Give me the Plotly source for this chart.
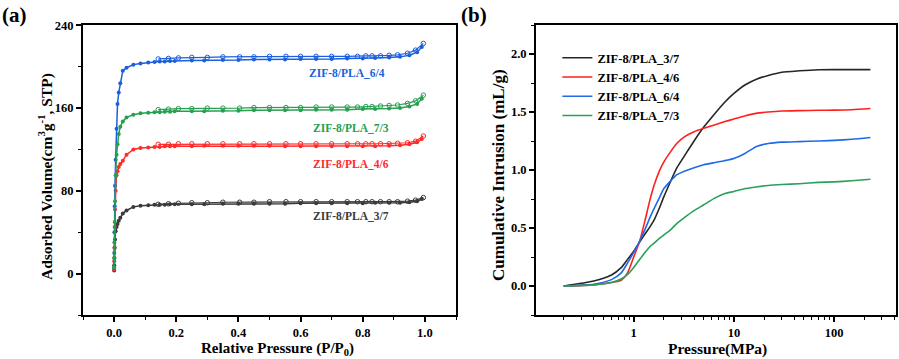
import plotly.graph_objects as go

# ---------------- Panel (a): N2 isotherms ----------------
p_ads = [0.0002, 0.0005, 0.001, 0.002, 0.003, 0.005, 0.008, 0.011, 0.015, 0.02, 0.028, 0.04,
         0.062, 0.085, 0.11, 0.13, 0.147, 0.163, 0.18, 0.195, 0.25, 0.29, 0.35, 0.40, 0.45,
         0.50, 0.55, 0.60, 0.65, 0.70, 0.75, 0.80, 0.84, 0.885, 0.92, 0.95, 0.975, 0.99]
p_des = [0.995, 0.97, 0.944, 0.912, 0.885, 0.857, 0.83, 0.81, 0.783, 0.75, 0.70, 0.65,
         0.60, 0.553, 0.50, 0.45, 0.404, 0.35, 0.30, 0.25, 0.207, 0.175, 0.142]

ads_3_7 = [3, 8, 15, 25, 33, 41, 45, 48, 51, 54, 58, 61, 64.5, 65.5, 66, 66.5, 66.5, 66.5, 67, 67,
           67, 67, 67.5, 67.5, 67.5, 67.5, 67.5, 68, 68, 68, 68, 68, 68.5, 68.5, 68.5, 69, 70, 72]
des_3_7 = [73.5, 71, 70, 69.5, 69.5, 69.5, 69.5, 69.5, 69.5, 69.5, 69.5, 69.5, 69.5, 69.5, 69.5,
           69, 69, 69, 68.5, 68.5, 68, 67.5, 67]

ads_4_6 = [4, 12, 25, 45, 62, 80, 95, 99, 103, 106, 109, 115, 120, 121.5, 122, 122.5, 122.5, 123,
           123, 123, 123, 123.5, 123.5, 123.5, 123.5, 123.5, 123, 123, 123, 123, 123, 123, 123,
           123.5, 124, 125, 127, 130]
des_4_6 = [133, 128, 126.5, 126, 125.5, 125.5, 125.5, 125.5, 125.5, 125.5, 125.5, 125.5, 125.5,
           125.5, 125.5, 125.5, 125.5, 125.5, 125.5, 125.5, 125.5, 125, 125]

ads_6_4 = [6, 20, 40, 65, 85, 110, 140, 164, 175, 184, 196, 199, 202, 203, 204, 204.5, 205, 205,
           205.5, 205.5, 206, 206, 206.5, 206.5, 207, 207, 207, 207.5, 207.5, 207.5, 208, 208,
           208.5, 209, 209.5, 211, 214, 219]
des_6_4 = [222.5, 216, 213, 211.5, 211, 210.5, 210.5, 210.5, 210, 210, 210, 210, 210, 210, 210,
           209.5, 209.5, 209.5, 209, 209, 208.5, 208, 207.5]

ads_7_3 = [6, 15, 30, 50, 70, 95, 115, 125, 135, 142, 147, 151, 153.5, 155, 155.5, 156, 156,
           156.5, 156.5, 157, 157, 157, 157.5, 157.5, 158, 158, 158, 158, 158.5, 158.5, 158.5,
           159, 159, 159.5, 160, 161.5, 164, 169]
des_7_3 = [172.5, 167, 164.5, 163, 162.5, 162, 161.5, 161.5, 161, 161, 161, 161, 160.5, 160.5,
           160.5, 160.5, 160, 160, 160, 159.5, 159.5, 159, 158.5]

# ---------------- Panel (b): mercury intrusion ----------------
pressure = [0.2, 0.4, 0.6, 0.75, 0.87, 1.0, 1.15, 1.3, 1.45, 1.6, 1.8, 2.0, 2.3, 2.7, 3.2, 4.0,
            5.0, 6.5, 8.0, 10, 13, 17, 22, 30, 45, 70, 100, 150, 230]
int_3_7 = [0, 0.043, 0.095, 0.158, 0.23, 0.30, 0.38, 0.45, 0.51, 0.57, 0.67, 0.77, 0.89, 1.02,
           1.12, 1.25, 1.37, 1.49, 1.58, 1.66, 1.735, 1.785, 1.815, 1.843, 1.855, 1.864, 1.865,
           1.865, 1.865]
int_4_6 = [0, 0.01, 0.03, 0.05, 0.115, 0.25, 0.39, 0.57, 0.74, 0.87, 0.99, 1.07, 1.15, 1.23,
           1.285, 1.33, 1.36, 1.39, 1.415, 1.44, 1.468, 1.49, 1.50, 1.508, 1.512, 1.515, 1.516,
           1.52, 1.53]
int_6_4 = [0, 0.015, 0.055, 0.113, 0.2, 0.29, 0.39, 0.49, 0.59, 0.67, 0.76, 0.84, 0.90, 0.96,
           0.99, 1.02, 1.045, 1.065, 1.08, 1.10, 1.145, 1.205, 1.228, 1.24, 1.245, 1.25, 1.255,
           1.265, 1.28]
int_7_3 = [0, 0.01, 0.03, 0.06, 0.10, 0.16, 0.23, 0.29, 0.34, 0.37, 0.41, 0.44, 0.48, 0.54,
           0.59, 0.65, 0.70, 0.76, 0.795, 0.815, 0.84, 0.855, 0.867, 0.875, 0.882, 0.893, 0.898,
           0.907, 0.92]

names = ["ZIF-8/PLA_3/7", "ZIF-8/PLA_4/6", "ZIF-8/PLA_6/4", "ZIF-8/PLA_7/3"]
col_a = {"ZIF-8/PLA_3/7": "#3a3a3a", "ZIF-8/PLA_4/6": "#ff2a2a",
         "ZIF-8/PLA_6/4": "#1c5fdc", "ZIF-8/PLA_7/3": "#26a04f"}
col_b = {"ZIF-8/PLA_3/7": "#262626", "ZIF-8/PLA_4/6": "#ff1f1f",
         "ZIF-8/PLA_6/4": "#1f6ae8", "ZIF-8/PLA_7/3": "#2ba05a"}

FONT = "Liberation Serif"

fig = go.Figure()

iso = {"ZIF-8/PLA_3/7": (ads_3_7, des_3_7), "ZIF-8/PLA_4/6": (ads_4_6, des_4_6),
       "ZIF-8/PLA_6/4": (ads_6_4, des_6_4), "ZIF-8/PLA_7/3": (ads_7_3, des_7_3)}
for nm in ["ZIF-8/PLA_3/7", "ZIF-8/PLA_4/6", "ZIF-8/PLA_6/4", "ZIF-8/PLA_7/3"]:
    a, d = iso[nm]
    c = col_a[nm]
    fig.add_trace(go.Scatter(x=p_des, y=d, mode="lines+markers", showlegend=False,
                             line=dict(color=c, width=1.2),
                             marker=dict(symbol="circle-open", size=4.5, color=c,
                                         line=dict(color=c, width=1)),
                             xaxis="x", yaxis="y"))
    fig.add_trace(go.Scatter(x=p_ads, y=a, mode="lines+markers", showlegend=False,
                             line=dict(color=c, width=1.5),
                             marker=dict(symbol="circle", size=4, color=c),
                             xaxis="x", yaxis="y"))

intr = {"ZIF-8/PLA_3/7": int_3_7, "ZIF-8/PLA_4/6": int_4_6,
        "ZIF-8/PLA_6/4": int_6_4, "ZIF-8/PLA_7/3": int_7_3}
for nm in names:
    fig.add_trace(go.Scatter(x=pressure, y=intr[nm], mode="lines", name=nm,
                             line=dict(color=col_b[nm], width=1.6, shape="spline", smoothing=0.6),
                             xaxis="x2", yaxis="y2"))

axis_common = dict(showline=True, linecolor="black", linewidth=2, mirror=True,
                   ticks="outside", ticklen=5, tickwidth=1.5, tickcolor="black",
                   showgrid=False, zeroline=False, automargin=False,
                   tickfont=dict(family=FONT, size=12.5, color="black", weight="bold"))

minor_log = [0.2, 0.3, 0.4, 0.5, 0.6, 0.7, 0.8, 0.9, 2, 3, 4, 5, 6, 7, 8, 9,
             20, 30, 40, 50, 60, 70, 80, 90, 200, 300, 400]

fig.update_layout(
    width=899, height=359,
    margin=dict(l=0, r=0, t=0, b=0, autoexpand=False),
    paper_bgcolor="white", plot_bgcolor="white",
    font=dict(family=FONT, color="black"),
    xaxis=dict(domain=[83 / 899, 456 / 899], range=[-0.1, 1.1], tick0=0, dtick=0.2,
               tickformat=".1f",
               minor=dict(ticks="outside", dtick=0.1, tick0=0, ticklen=3, tickwidth=1.2,
                          tickcolor="black"),
               anchor="y", **axis_common),
    yaxis=dict(domain=[44 / 359, 334 / 359], range=[-40, 240.3], tick0=0, dtick=80,
               minor=dict(ticks="outside", dtick=40, tick0=0, ticklen=3, tickwidth=1.2,
                          tickcolor="black"),
               anchor="x", **axis_common),
    xaxis2=dict(domain=[536 / 899, 896 / 899], type="log", range=[-0.975, 2.617],
                tickmode="array", tickvals=[1, 10, 100], ticktext=["1", "10", "100"],
                minor=dict(ticks="outside", tickmode="array", tickvals=minor_log, ticklen=3,
                           tickwidth=1.2, tickcolor="black"),
                anchor="y2", **axis_common),
    yaxis2=dict(domain=[44 / 359, 334 / 359], range=[-0.25, 2.25], tick0=0, dtick=0.5,
                tickformat=".1f",
                minor=dict(ticks="outside", dtick=0.25, tick0=0, ticklen=3, tickwidth=1.2,
                           tickcolor="black"),
                anchor="x2", **axis_common),
    legend=dict(x=0.62, y=0.88, xanchor="left", yanchor="top",
                bgcolor="rgba(0,0,0,0)", borderwidth=0, tracegroupgap=0,
                font=dict(family=FONT, size=12.5, color="black", weight="bold")),
)

ann = []
lbl_pos = {"ZIF-8/PLA_6/4": (0.749, 193.5), "ZIF-8/PLA_7/3": (0.762, 141),
           "ZIF-8/PLA_4/6": (0.762, 106), "ZIF-8/PLA_3/7": (0.762, 56)}
for nm, (xx, yy) in lbl_pos.items():
    ann.append(dict(x=xx, y=yy, xref="x", yref="y", text=nm, showarrow=False,
                    xanchor="center", yanchor="middle",
                    font=dict(family=FONT, size=11.5, color=col_a[nm], weight="bold")))

common = dict(xref="paper", yref="paper", showarrow=False, xanchor="center", yanchor="middle")
ann += [
    dict(x=14 / 899, y=1 - 15 / 359, text="(a)",
         font=dict(family=FONT, size=21, color="black", weight="bold"), **common),
    dict(x=474 / 899, y=1 - 15 / 359, text="(b)",
         font=dict(family=FONT, size=21, color="black", weight="bold"), **common),
    dict(x=45 / 899, y=1 - 177 / 359, textangle=-90,
         text="Adsorbed Volume(cm<sup>3</sup>g<sup>-1</sup>, STP)",
         font=dict(family=FONT, size=15.5, color="black", weight="bold"), **common),
    dict(x=498 / 899, y=1 - 175 / 359, textangle=-90,
         text="Cumulative Intrusion (mL/g)",
         font=dict(family=FONT, size=17, color="black", weight="bold"), **common),
    dict(x=277 / 899, y=1 - 349 / 359,
         text="Relative Pressure (P/P<sub>0</sub>)",
         font=dict(family=FONT, size=15, color="black", weight="bold"), **common),
    dict(x=717 / 899, y=1 - 349 / 359,
         text="Pressure(MPa)",
         font=dict(family=FONT, size=15.5, color="black", weight="bold"), **common),
]
fig.update_layout(annotations=ann)

fig.write_html("out.html", config={"displayModeBar": False},
               post_script="document.body.style.margin='0px';")
